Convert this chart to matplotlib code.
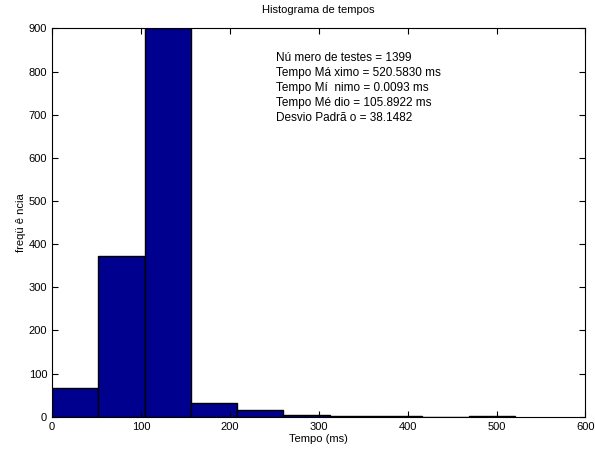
import numpy as np
import matplotlib
matplotlib.use("Agg")
import matplotlib.pyplot as plt

# contagens por classe (10 classes entre o mínimo e o máximo)
contagens = [66, 373, 902, 31, 16, 5, 2, 2, 0, 2]
tempo_min = 0.0093
tempo_max = 520.5830

estatisticas = [
    "Nú mero de testes = 1399",
    "Tempo Má ximo = 520.5830 ms",
    "Tempo Mí  nimo = 0.0093 ms",
    "Tempo Mé dio = 105.8922 ms",
    "Desvio Padrã o = 38.1482",
]

xticks = [0, 100, 200, 300, 400, 500, 600]
yticks = [0, 100, 200, 300, 400, 500, 600, 700, 800, 900]

plt.rcParams["font.family"] = ["Liberation Sans", "DejaVu Sans"]
plt.rcParams["font.size"] = 8

fig = plt.figure(figsize=(5.95, 4.51), dpi=100)
ax = fig.add_axes([0.0874, 0.076, 0.8966, 0.861])

bordas = np.linspace(tempo_min, tempo_max, len(contagens) + 1)
ax.bar(
    bordas[:-1],
    contagens,
    width=np.diff(bordas),
    align="edge",
    color="#00008F",
    edgecolor="black",
    linewidth=1.0,
)

ax.set_xlim(0, 600)
ax.set_ylim(0, 900)
ax.set_xticks(xticks)
ax.set_yticks(yticks)
ax.tick_params(direction="in", top=True, right=True, length=4, width=0.8,
               labelsize=8, colors="black")
for s in ax.spines.values():
    s.set_linewidth(0.8)

ax.set_title("Histograma de tempos", fontsize=8, pad=11)
ax.set_xlabel("Tempo (ms)", fontsize=8, labelpad=2)
ax.set_ylabel("freqü ê ncia", fontsize=8, labelpad=2)

ax.text(
    0.42, 0.94,
    "\n".join(estatisticas),
    transform=ax.transAxes,
    ha="left",
    va="top",
    fontsize=8.5,
    linespacing=1.35,
)

fig.savefig("out.png", dpi=100)
